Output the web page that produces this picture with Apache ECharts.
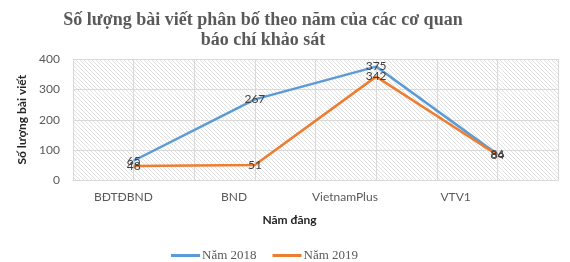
<!DOCTYPE html>
<html>
<head>
<meta charset="utf-8">
<script src="https://cdn.jsdelivr.net/npm/echarts@6/dist/echarts.min.js"></script>
<style>
  html, body { margin: 0; padding: 0; background: #fff; }
  #chart { width: 570px; height: 262px; }
</style>
</head>
<body>
<div id="chart"></div>
<script>
// dữ liệu
const categories = ['BĐTĐBND', 'BND', 'VietnamPlus', 'VTV1'];
const nam2018 = [65, 267, 375, 86];
const nam2019 = [48, 51, 342, 84];
const yTicks = [0, 100, 200, 300, 400];

// nền sọc chéo cho vùng vẽ
function hatch() {
  const c = document.createElement('canvas');
  c.width = 4; c.height = 4;
  const ctx = c.getContext('2d');
  ctx.fillStyle = '#ffffff';
  ctx.fillRect(0, 0, 4, 4);
  ctx.strokeStyle = '#e0e0e0';
  ctx.lineWidth = 1;
  ctx.beginPath();
  ctx.moveTo(-1, -1); ctx.lineTo(5, 5);
  ctx.moveTo(-1, 3); ctx.lineTo(1, 5);
  ctx.moveTo(3, -1); ctx.lineTo(5, 1);
  ctx.stroke();
  return c;
}

const gridColor = '#d9d9d9';
const textColor = '#595959';

const chart = echarts.init(document.getElementById('chart'));

const option = {
  animation: false,
  title: {
    text: 'Số lượng bài viết phân bố theo năm của các cơ quan\nbáo chí khảo sát',
    left: 258,
    top: 5,
    textAlign: 'center',
    textStyle: {
      fontFamily: 'Liberation Serif',
      fontWeight: 'bold',
      fontSize: 18,
      lineHeight: 20,
      color: textColor
    }
  },
  legend: {
    left: 166,
    top: 244,
    icon: 'rect',
    itemWidth: 29,
    itemHeight: 3,
    itemGap: 16,
    textStyle: {
      fontFamily: 'Liberation Serif',
      fontSize: 13,
      color: textColor,
      padding: [0, 0, 0, -3]
    }
  },
  grid: [
    {
      left: 73, right: 12, top: 59, bottom: 81.5,
      show: true,
      borderWidth: 0,
      backgroundColor: { image: hatch(), repeat: 'repeat' }
    },
    { left: 68, width: 443, top: 59, bottom: 81.5 }
  ],
  xAxis: [
    {
      type: 'category',
      gridIndex: 0,
      data: categories,
      axisLine: { lineStyle: { color: gridColor } },
      axisTick: { show: false },
      axisLabel: { show: false },
      splitLine: { show: false }
    },
    {
      // đường lưới dọc
      type: 'value',
      gridIndex: 0,
      min: 0, max: 8, interval: 1,
      axisLine: { show: false },
      axisTick: { show: false },
      axisLabel: { show: false },
      splitLine: { show: true, lineStyle: { color: gridColor } }
    },
    {
      type: 'category',
      gridIndex: 1,
      data: categories,
      axisLine: { show: false },
      axisTick: { show: false },
      axisLabel: {
        margin: 11,
        fontFamily: 'Lato',
        fontSize: 12,
        color: textColor
      },
      name: 'Năm đăng',
      nameLocation: 'middle',
      nameGap: 34,
      nameTextStyle: {
        fontFamily: 'Lato',
        fontWeight: 'bold',
        fontSize: 12,
        color: '#262626'
      }
    }
  ],
  yAxis: [
    {
      type: 'value',
      gridIndex: 0,
      min: yTicks[0],
      max: yTicks[yTicks.length - 1],
      interval: 100,
      axisLine: { show: false },
      axisTick: { show: false },
      axisLabel: {
        margin: 13,
        fontFamily: 'Lato',
        fontSize: 12,
        color: textColor
      },
      splitLine: { lineStyle: { color: gridColor } },
      name: 'Số lượng bài viết',
      nameLocation: 'middle',
      nameGap: 42,
      nameTextStyle: {
        fontFamily: 'Lato',
        fontWeight: 'bold',
        fontSize: 12,
        color: '#262626'
      }
    },
    { type: 'value', gridIndex: 1, show: false }
  ],
  series: [
    {
      name: 'Năm 2018',
      type: 'line',
      xAxisIndex: 0,
      yAxisIndex: 0,
      data: nam2018,
      symbol: 'circle',
      symbolSize: 0.1,
      lineStyle: { color: '#5B9BD5', width: 2.5 },
      itemStyle: { color: '#5B9BD5' },
      label: {
        show: true,
        position: 'inside',
        fontFamily: 'Lato',
        fontSize: 12,
        color: '#404040'
      }
    },
    {
      name: 'Năm 2019',
      type: 'line',
      xAxisIndex: 0,
      yAxisIndex: 0,
      data: nam2019,
      symbol: 'circle',
      symbolSize: 0.1,
      lineStyle: { color: '#ED7D31', width: 2.5 },
      itemStyle: { color: '#ED7D31' },
      label: {
        show: true,
        position: 'inside',
        fontFamily: 'Lato',
        fontSize: 12,
        color: '#404040'
      }
    }
  ]
};

chart.setOption(option);
</script>
</body>
</html>
